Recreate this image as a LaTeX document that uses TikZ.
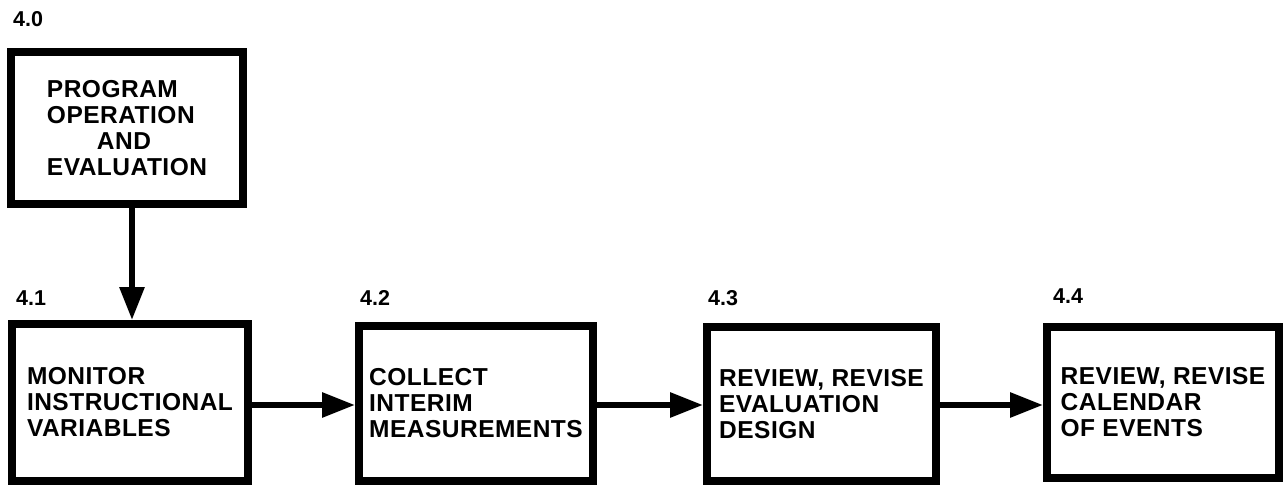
\documentclass[tikz,border=0pt]{standalone}
\usepackage{fontspec}
\setmainfont{Liberation Sans}
\usetikzlibrary{arrows.meta}
\begin{document}
\begin{tikzpicture}[x=1pt,y=-1pt,
  stage/.style={draw, line width=8pt, inner sep=0pt, align=left,
    font=\fontsize{24.5}{26}\selectfont\bfseries\addfontfeature{LetterSpace=2}},
  tag/.style={anchor=base west, inner sep=0pt,
    font=\fontsize{21.5}{24}\selectfont\bfseries},
  flow/.style={line width=6pt, -{Triangle[length=33pt,width=24pt]}}]
\useasboundingbox (0,0) rectangle (1284,487);

% top-level stage
\node[stage, minimum width=232pt, minimum height=152pt] (b40) at (127,128)
  {PROGRAM\\OPERATION\\\hspace*{50pt}AND\\EVALUATION};
\node[tag] (t40) at (13,27) {4.0};

% second-level stages
\node[stage, minimum width=236pt, minimum height=157pt] (b41) at (130,402.5)
  {MONITOR\\INSTRUCTIONAL\\VARIABLES};
\node[stage, minimum width=234pt, minimum height=155pt] (b42) at (476,403.5)
  {COLLECT\\INTERIM\\MEASUREMENTS};
\node[stage, minimum width=229pt, minimum height=154pt] (b43) at (821.5,404)
  {REVIEW, REVISE\\EVALUATION\\DESIGN};
\node[stage, minimum width=232pt, minimum height=151pt] (b44) at (1163,402.5)
  {REVIEW, REVISE\\CALENDAR\\OF EVENTS};

\node[tag] (t41) at (16,305) {4.1};
\node[tag] (t42) at (360,305) {4.2};
\node[tag] (t43) at (708,305) {4.3};
\node[tag] (t44) at (1053,303) {4.4};

% connectors
\coordinate (vx) at (132,0);
\draw[flow] (b40.south -| vx) -- (b41.north -| vx);
\coordinate (hy) at (0,405);
\draw[flow] (b41.east |- hy) -- (b42.west |- hy);
\draw[flow] (b42.east |- hy) -- (b43.west |- hy);
\draw[flow] (b43.east |- hy) -- (b44.west |- hy);
\end{tikzpicture}
\end{document}
